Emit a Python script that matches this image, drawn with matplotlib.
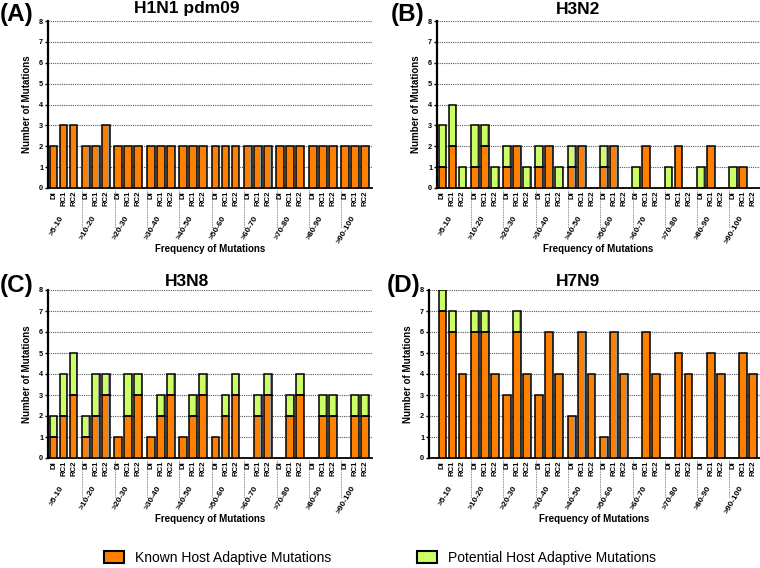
import matplotlib
matplotlib.use("Agg")
import matplotlib.pyplot as plt
import matplotlib.patches as mpatches
import matplotlib.transforms as mtransforms

plt.rcParams['font.family'] = ['Liberation Sans', 'DejaVu Sans']
plt.rcParams['font.weight'] = 'bold'

# du lieu doc tu hinh
groups = ['>5-10', '>10-20', '>20-30', '>30-40', '>40-50',
          '>50-60', '>60-70', '>70-80', '>80-90', '>90-100']
subs = ['DI', 'RC1', 'RC2']

h1n1_known = [2, 3, 3, 2, 2, 3, 2, 2, 2, 2, 2, 2, 2, 2, 2,
              2, 2, 2, 2, 2, 2, 2, 2, 2, 2, 2, 2, 2, 2, 2]
h1n1_pot = [0, 0, 0, 0, 0, 0, 0, 0, 0, 0, 0, 0, 0, 0, 0,
            0, 0, 0, 0, 0, 0, 0, 0, 0, 0, 0, 0, 0, 0, 0]

h3n2_known = [1, 2, 0, 1, 2, 0, 1, 2, 0, 1, 2, 0, 1, 2, 0,
              1, 2, 0, 0, 2, 0, 0, 2, 0, 0, 2, 0, 0, 1, 0]
h3n2_pot = [2, 2, 1, 2, 1, 1, 1, 0, 1, 1, 0, 1, 1, 0, 0,
            1, 0, 0, 1, 0, 0, 1, 0, 0, 1, 0, 0, 1, 0, 0]

h3n8_known = [1, 2, 3, 1, 2, 3, 1, 2, 3, 1, 2, 3, 1, 2, 3,
              1, 2, 3, 0, 2, 3, 0, 2, 3, 0, 2, 2, 0, 2, 2]
h3n8_pot = [1, 2, 2, 1, 2, 1, 0, 2, 1, 0, 1, 1, 0, 1, 1,
            0, 1, 1, 0, 1, 1, 0, 1, 1, 0, 1, 1, 0, 1, 1]

h7n9_known = [7, 6, 4, 6, 6, 4, 3, 6, 4, 3, 6, 4, 2, 6, 4,
              1, 6, 4, 0, 6, 4, 0, 5, 4, 0, 5, 4, 0, 5, 4]
h7n9_pot = [1, 1, 0, 1, 1, 0, 0, 1, 0, 0, 0, 0, 0, 0, 0,
            0, 0, 0, 0, 0, 0, 0, 0, 0, 0, 0, 0, 0, 0, 0]

cam = '#ff8000'
xanh = '#ccff66'
xam = '#999999'

W, H = 760, 568
fig = plt.figure(figsize=(W / 100, H / 100), dpi=100)

gp = 3.24   # khoang cach nhom
bw = 0.78


def ve(rect, xl, known, pot, title, tag, title_xy, tag_xy):
    l, t, r, b = rect
    ax = fig.add_axes([l / W, 1 - b / H, (r - l) / W, (b - t) / H])
    xs = [g * gp + i + 0.55 for g in range(len(groups)) for i in range(3)]
    for x, k, p in zip(xs, known, pot):
        tot = k + p
        if tot == 0:
            continue
        # bong xam ben phai cot
        ax.bar(x, tot, width=bw, color=xam, lw=0, zorder=2)
        ax.bar(x - bw * 0.1, k, width=bw * 0.8, color=cam, lw=0, zorder=3)
        if p:
            ax.bar(x - bw * 0.1, p, bottom=k, width=bw * 0.8, color=xanh, lw=0, zorder=3)
        ax.bar(x, k, width=bw, fill=False, edgecolor='black', lw=1.1, zorder=4)
        if p:
            ax.bar(x, p, bottom=k, width=bw, fill=False, edgecolor='black', lw=1.1, zorder=4)
    ax.set_xlim(xl, 10 * gp)
    ax.set_ylim(0, 8)
    ax.set_yticks(range(9))
    ax.tick_params(axis='y', labelsize=5.3, length=2.5, width=1, pad=1)
    ax.set_xticks(xs)
    ax.set_xticklabels(subs * len(groups), rotation=90, fontsize=5.6, va='top')
    ax.tick_params(axis='x', length=0, pad=2)
    ax.yaxis.grid(True, ls=(0, (1, 1)), color='#555555', lw=0.8, zorder=0)
    ax.set_axisbelow(True)
    for s in ['top', 'right']:
        ax.spines[s].set_visible(False)
    ax.spines['left'].set_linewidth(1.6)
    ax.spines['bottom'].set_linewidth(1.3)
    trans = mtransforms.blended_transform_factory(ax.transData, ax.transAxes)
    for g in range(1, len(groups)):
        xv = g * gp + 0.175
        ax.plot([xv, xv], [-0.01, -0.24], ls=(0, (1, 1)), color='#666666', lw=0.6,
                transform=trans, clip_on=False)
    for g, name in enumerate(groups):
        ax.text(g * gp + 1.75, -0.16, name, rotation=60, ha='right', va='top',
                fontsize=6, transform=trans)
    ax.set_ylabel('Number of Mutations', fontsize=7, fontweight='bold', labelpad=5)
    ax.text(0.5, -0.365, 'Frequency of Mutations', transform=ax.transAxes, ha='center',
            va='center', fontsize=7, fontweight='bold')
    fig.text(title_xy[0] / W, 1 - title_xy[1] / H, title, ha='center', va='center',
             fontsize=12.5, fontweight='bold')
    fig.text(tag_xy[0] / W, 1 - tag_xy[1] / H, tag, ha='left', va='center',
             fontsize=17.5, fontweight='bold')
    return ax


ve((48, 21, 372, 188), 0, h1n1_known, h1n1_pot, 'H1N1 pdm09', '(A)', (187, 9), (0, 14))
ve((437, 21, 760, 188), 0, h3n2_known, h3n2_pot, 'H3N2', '(B)', (578, 10), (391, 14))
ve((48, 290, 372, 458), 0, h3n8_known, h3n8_pot, 'H3N8', '(C)', (187, 281), (0, 285))
ve((429, 290, 760, 458), -0.8, h7n9_known, h7n9_pot, 'H7N9', '(D)', (578, 281), (387, 285))

hd = [mpatches.Patch(facecolor=cam, edgecolor='black', lw=1.5, label='Known Host Adaptive Mutations'),
      mpatches.Patch(facecolor=xanh, edgecolor='black', lw=1.5, label='Potential Host Adaptive Mutations')]
fig.legend(handles=hd, loc='center', bbox_to_anchor=(380 / W, 1 - 558 / H), ncol=2,
           frameon=False, prop={'size': 10, 'weight': 'normal'}, handlelength=1.4,
           handleheight=1.0, columnspacing=6.2, handletextpad=0.8)

fig.savefig('out.png', dpi=100)
